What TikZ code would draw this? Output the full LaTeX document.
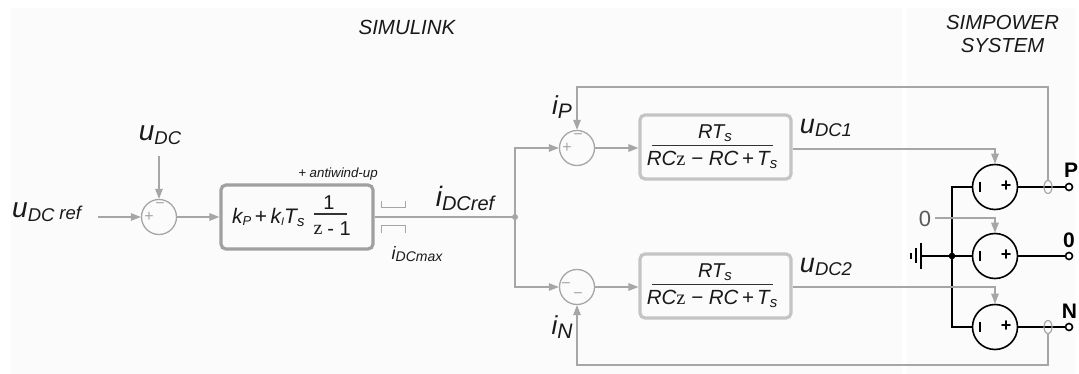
\documentclass[tikz,border=0pt]{standalone}
\usepackage{fontspec}
\setmainfont{Liberation Sans}
\newfontfamily\serifz{Liberation Serif}
\usetikzlibrary{arrows.meta,shapes.geometric}
\definecolor{panel}{HTML}{FBFBFB}
\definecolor{wire}{HTML}{A6A6A6}
\definecolor{boxa}{HTML}{A0A0A0}
\definecolor{boxb}{HTML}{C4C4C4}
\newcommand{\sg}[2]{{\fontsize{#1}{#1}\selectfont\itshape #2}}
\newcommand{\lbl}[4]{{\fontsize{#1}{#1}\selectfont\itshape #2\fontsize{#3}{#3}\selectfont\raisebox{-0.2em}{#4}}}
\newcommand{\zz}{{\serifz\upshape z}}
\tikzset{
 x=1pt,y=-1pt,
 wireline/.style={draw=wire,line width=1.3pt},
 arrowline/.style={wireline,-{Triangle[length=10pt,width=7.5pt,fill=wire]}},
 sumc/.style={circle,draw=wire,line width=1.3pt,minimum size=35pt,inner sep=0pt},
 pibox/.style={draw=boxa,line width=3.2pt,rounded corners=5pt,inner sep=0pt},
 tfbox/.style={draw=boxb,line width=3.2pt,rounded corners=5pt,inner sep=0pt},
 srcc/.style={circle,draw=black,line width=1.6pt,minimum size=45pt,inner sep=0pt},
 powerline/.style={draw=black,line width=1.6pt},
 term/.style={circle,draw=black,line width=1.6pt,fill=white,minimum size=7pt,inner sep=0pt},
 txt/.style={inner sep=0pt,text=black!90},
 sgn/.style={inner sep=0pt,text=wire},
 lim/.style={draw=wire,line width=1pt},
 fracline/.style={draw=black!80,line width=1.1pt},
 meas/.style={ellipse,draw=wire,line width=1.2pt,minimum width=8pt,minimum height=13pt,inner sep=0pt},
}
\begin{document}
\begin{tikzpicture}
\useasboundingbox (0,0) rectangle (1079,374);
\fill[panel] (11,8) rectangle (902,374);
\fill[panel] (907,8) rectangle (1075,374);

\node[txt] (tsim) at (407,27) {\sg{20.5}{SIMULINK}};
\node[txt,align=center] (tpow) at (1002.5,34) {\sg{20.3}{SIMPOWER}\\[7pt]\sg{20.3}{SYSTEM}};

% Summers
\node[sumc] (s1) at (159,217) {};
\node[sumc] (sp) at (577,148) {};
\node[sumc] (sn) at (577,287) {};
\node[sgn] (s1a) at (149,216.5) {\fontsize{16}{16}\selectfont +};
\node[sgn] (s1b) at (160,206) {\fontsize{16}{16}\selectfont −};
\node[sgn] (spa) at (567,147.5) {\fontsize{16}{16}\selectfont +};
\node[sgn] (spb) at (578,137) {\fontsize{16}{16}\selectfont −};
\node[sgn] (sna) at (566,286) {\fontsize{16}{16}\selectfont −};
\node[sgn] (snb) at (578,296) {\fontsize{16}{16}\selectfont −};

% Boxes
\node[pibox,minimum width=152pt,minimum height=64pt] (pi) at (297,217) {};
\node[tfbox,minimum width=151pt,minimum height=64pt] (t1) at (715.5,147) {};
\node[tfbox,minimum width=151pt,minimum height=64pt] (t2) at (715.5,286) {};

\node[txt,anchor=west] (pitxt) at (232,217) {\lbl{21}{k}{13}{P}\fontsize{21}{21}\selectfont\,+\,\lbl{21}{k}{11}{I}\lbl{21}{T}{15}{s}};
\node[txt] (pinum) at (329,203) {\fontsize{20}{20}\selectfont 1};
\node[txt] (pidz) at (318,230) {\fontsize{20}{20}\selectfont\zz};
\node[txt] (piden) at (339,229) {\fontsize{20}{20}\selectfont - 1};
\draw[fracline] (314,214) -- (347,214);
\node[txt] (anti) at (338,174) {\sg{13.3}{+ antiwind-up}};

\newcommand{\tfn}{\lbl{20}{RT}{15}{s}}
\newcommand{\tfd}{{\fontsize{20.5}{20.5}\selectfont\itshape RC\zz\ −\ RC\,+\,T\fontsize{15}{15}\selectfont\raisebox{-0.2em}{s}}}
\node[txt] (t1n) at (715,133) {\tfn};
\node[txt] (t1d) at (712,160) {\tfd};
\draw[fracline] (652,145.5) -- (773,145.5);
\node[txt] (t2n) at (715,272) {\tfn};
\node[txt] (t2d) at (712,299) {\tfd};
\draw[fracline] (652,284.5) -- (773,284.5);

% Labels
\node[txt,anchor=west] (luref) at (12,212) {\lbl{28}{u}{18.5}{DC}\hspace{5pt}\raisebox{-0.2em}{\sg{18.5}{ref}}};
\node[txt] (ludc) at (160,135) {\lbl{28}{u}{18.5}{DC}};
\node[txt] (lidc) at (465,198) {\lbl{28}{i}{20}{DCref}};
\node[txt] (lmax) at (417,254) {\lbl{18}{i}{14}{DCmax}};
\node[txt] (lip) at (562,107) {\lbl{26}{i}{21}{P}};
\node[txt] (lin) at (562,327) {\lbl{26}{i}{21}{N}};
\node[txt] (lu1) at (826,128) {\lbl{27}{u}{18.5}{DC1}};
\node[txt] (lu2) at (826,267) {\lbl{27}{u}{18.5}{DC2}};
\node[inner sep=0pt,text=black!65] (lzero) at (925,219) {\fontsize{22}{22}\selectfont 0};

% Signal wires
\coordinate (urefend) at (98,217);
\coordinate (udcend) at (159,156);
\draw[arrowline] (urefend) -- (s1.west);
\draw[arrowline] (udcend) -- (s1.north);
\draw[arrowline] (s1.east) -- (pi.west);
\coordinate (j) at (515,217);
\draw[wireline] (pi.east) -- (j);
\fill[wire] (j) circle (3pt);
\draw[arrowline] (j) |- (sp.west);
\draw[arrowline] (j) |- (sn.west);
\draw[arrowline] (sp.east) -- (sp.east -| t1.west);
\draw[arrowline] (sn.east) -- (sn.east -| t2.west);

% Limiter marks
\draw[lim] (381,201) -- (381,208) -- (405,208) -- (405,201);
\draw[lim] (381,233) -- (381,226) -- (405,226) -- (405,233);

% Power part
\node[srcc] (v1) at (995,187) {};
\node[srcc] (v2) at (995,256) {};
\node[srcc] (v3) at (995,327) {};
\foreach \n/\yy in {a/187,b/256,c/327}{
 \draw[powerline,line width=1.8pt] (980,\yy-5) -- (980,\yy+5);
 \node[inner sep=0pt] (plus\n) at (1006,\yy-0.5) {\fontsize{18}{18}\selectfont\bfseries +};
}
\coordinate (bus) at (952,256);
\node[term] (tp) at (1069,187) {};
\node[term] (t0) at (1069,256) {};
\node[term] (tn) at (1069,327) {};
\draw[powerline] (v1.east) -- (tp.west);
\draw[powerline] (v2.east) -- (t0.west);
\draw[powerline] (v3.east) -- (tn.west);
\draw[powerline] (v1.west) -| (bus);
\draw[powerline] (v3.west) -| (bus);
\draw[powerline] (v2.west) -- (bus);
\fill[black] (bus) circle (3.3pt);
\coordinate (g0) at (921,256);
\draw[powerline] (bus) -- (g0);
\draw[powerline] (921,243.5) -- (921,268.5);
\draw[powerline] (916,248) -- (916,263);
\draw[powerline,line width=1.8pt] (911,253) -- (911,258.5);
\node[inner sep=0pt] (lP) at (1071,170.5) {\fontsize{21}{21}\selectfont\bfseries P};
\node[inner sep=0pt] (l0) at (1069,240.5) {\fontsize{21}{21}\selectfont\bfseries 0};
\node[inner sep=0pt] (lN) at (1069.5,311.5) {\fontsize{21}{21}\selectfont\bfseries N};

% Signal to sources
\coordinate (c1) at (995,149);
\coordinate (c2) at (995,218);
\coordinate (c3) at (995,287);
\coordinate (z0) at (935,218);
\draw[arrowline] (c1 -| t1.east) -- (c1) -- (v1.north);
\draw[arrowline] (z0) -- (c2) -- (v2.north);
\draw[arrowline] (c3 -| t2.east) -- (c3) -- (v3.north);
% Measurement loops
\node[meas] (mp) at (1048,187) {};
\node[meas] (mn) at (1048,327) {};
\coordinate (ct) at (1048,87);
\coordinate (cb) at (1048,365);
\coordinate (ctl) at (577,87);
\coordinate (cbl) at (577,365);
\draw[arrowline] (mp.north) -- (ct) -- (ctl) -- (sp.north);
\draw[arrowline] (mn.south) -- (cb) -- (cbl) -- (sn.south);
\end{tikzpicture}
\end{document}
